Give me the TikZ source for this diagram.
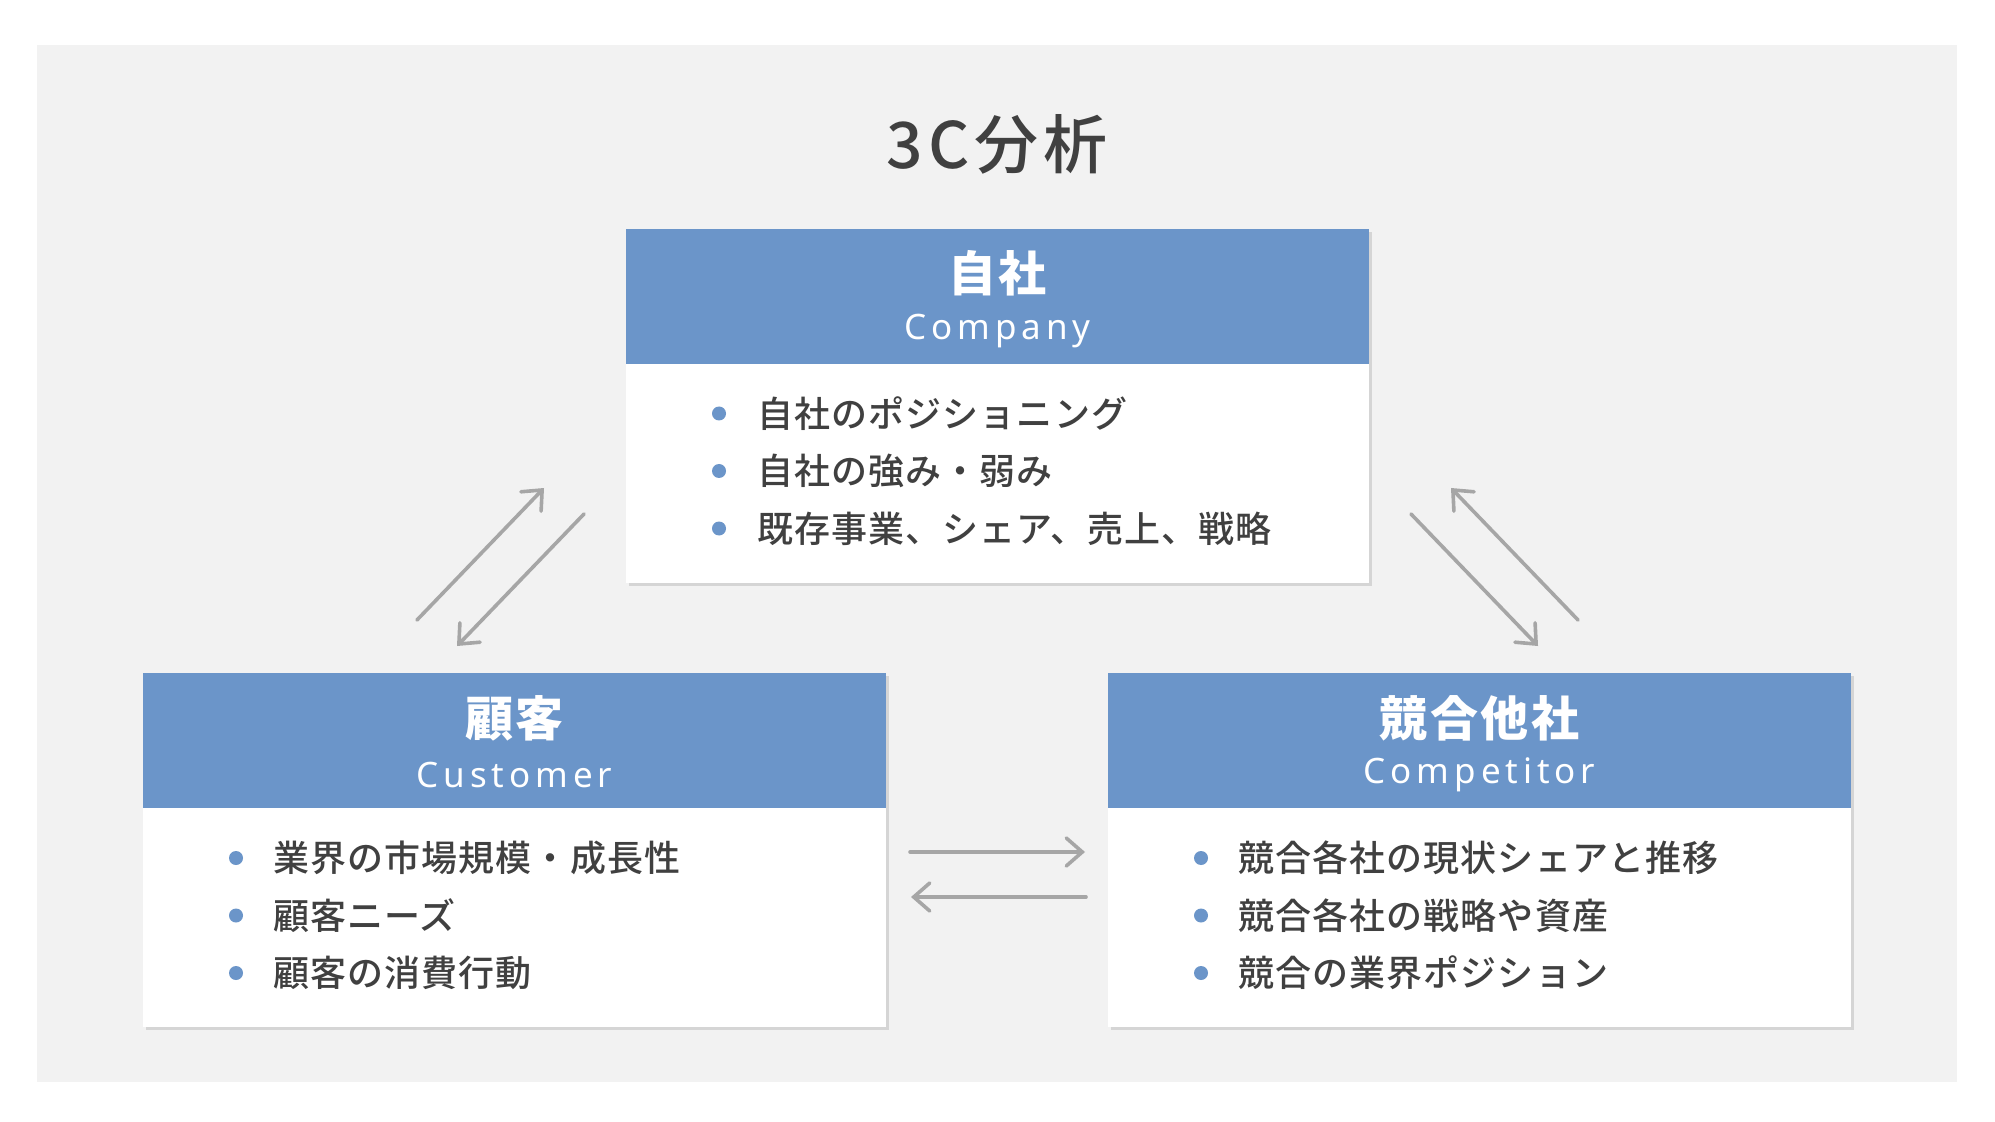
\documentclass[tikz,border=0pt]{standalone}
\usepackage{fontspec}
\setmainfont{Noto Sans CJK JP}
\IfFontExistsTF{Noto Sans CJK JP Medium}
  {\newcommand{\medname}{Noto Sans CJK JP Medium}}
  {\newcommand{\medname}{Noto Sans CJK JP Bold}}
\newfontfamily\headfont[LetterSpace=6]{Noto Sans CJK JP}
\newfontfamily\latfont[LetterSpace=14]{Noto Sans}
\newfontfamily\titlefont[LetterSpace=8]{\medname}
\newfontfamily\itemfont[LetterSpace=3]{\medname}
\usetikzlibrary{arrows.meta}
\usetikzlibrary{shadows}
\definecolor{bggray}{HTML}{F2F2F2}
\definecolor{hdblue}{HTML}{6B95C9}
\definecolor{txgray}{HTML}{404040}
\definecolor{argray}{HTML}{A6A6A6}
\tikzset{
  boxbody/.style={fill=white,minimum width=371.5pt,minimum height=177pt,anchor=north west,inner sep=0pt,
    drop shadow={shadow xshift=1.2pt,shadow yshift=-1.2pt,opacity=0.25}},
  boxhead/.style={fill=hdblue,minimum width=371.5pt,minimum height=67.5pt,anchor=north west,inner sep=0pt},
  headjp/.style={text=white,inner sep=0pt,font=\headfont\bfseries\fontsize{24}{28}\selectfont},
  headen/.style={text=white,inner sep=0pt,font=\latfont\fontsize{17.5}{20}\selectfont},
  itemtext/.style={anchor=west,inner sep=0pt,text=txgray,font=\itemfont\fontsize{18}{22}\selectfont},
  bulletdot/.style={circle,fill=hdblue,minimum size=7pt,inner sep=0pt},
  link/.style={draw=argray,line width=1.8pt,line cap=round,-{Straight Barb[length=8pt,width=14pt,line cap=round]}}
}

\begin{document}
\begin{tikzpicture}[x=0.5pt,y=-0.5pt]
  \useasboundingbox (0,0) rectangle (1995,1122);
  \fill[bggray] (37,45) rectangle (1957,1082);
  \node[text=txgray,font=\titlefont\fontsize{32}{36}\selectfont] (title) at (997,144) {3C分析};

  \node[boxbody] (co) at (626,229) {};
  \node[boxhead] (co-h) at (626,229) {};
  \node[headjp] (co-jp) at (997.5,273.5) {自社};
  \node[headen] (co-en) at (997.5,331) {Company};
  \foreach \t [count=\i] in {自社のポジショニング,自社の強み・弱み,既存事業、シェア、売上、戦略}{
    \node[bulletdot] (co-d\i) at (719,{413.5+57.5*(\i-1)}) {};
    \node[itemtext] (co-t\i) at (757,{413.5+57.5*(\i-1)}) {\t};
  }

  \node[boxbody] (cu) at (143,673) {};
  \node[boxhead] (cu-h) at (143,673) {};
  \node[headjp] (cu-jp) at (514.5,718) {顧客};
  \node[headen] (cu-en) at (514.5,775) {Customer};
  \foreach \t [count=\i] in {業界の市場規模・成長性,顧客ニーズ,顧客の消費行動}{
    \node[bulletdot] (cu-d\i) at (236,{858+57.5*(\i-1)}) {};
    \node[itemtext] (cu-t\i) at (273,{858+57.5*(\i-1)}) {\t};
  }

  \node[boxbody] (cp) at (1108,673) {};
  \node[boxhead] (cp-h) at (1108,673) {};
  \node[headjp] (cp-jp) at (1479.5,718) {競合他社};
  \node[headen] (cp-en) at (1479.5,775) {Competitor};
  \foreach \t [count=\i] in {競合各社の現状シェアと推移,競合各社の戦略や資産,競合の業界ポジション}{
    \node[bulletdot] (cp-d\i) at (1201,{858+57.5*(\i-1)}) {};
    \node[itemtext] (cp-t\i) at (1238,{858+57.5*(\i-1)}) {\t};
  }

  \coordinate (lu1) at (417,620); \coordinate (lu2) at (544,488);
  \coordinate (ld1) at (584,514); \coordinate (ld2) at (457,646);
  \coordinate (ru1) at (1578,620); \coordinate (ru2) at (1451,488);
  \coordinate (rd1) at (1411,514); \coordinate (rd2) at (1538,646);
  \coordinate (hr1) at (910,852); \coordinate (hr2) at (1085,852);
  \coordinate (hl1) at (1086,897); \coordinate (hl2) at (911,897);
  \draw[link] (lu1) -- (lu2);
  \draw[link] (ld1) -- (ld2);
  \draw[link] (ru1) -- (ru2);
  \draw[link] (rd1) -- (rd2);
  \draw[link] (hr1) -- (hr2);
  \draw[link] (hl1) -- (hl2);
\end{tikzpicture}
\end{document}
